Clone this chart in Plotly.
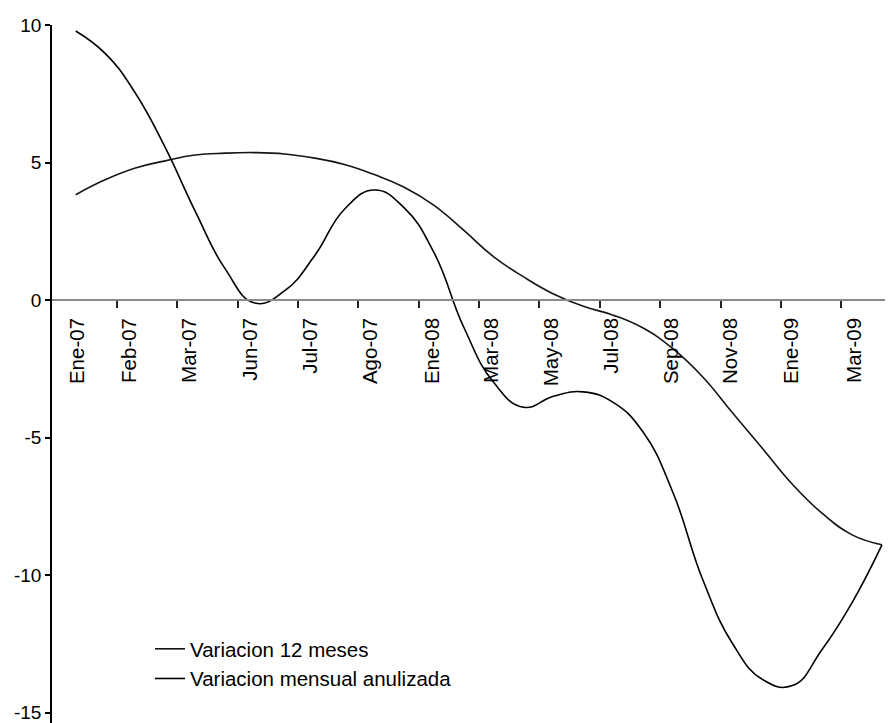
import plotly.graph_objects as go

# ---- data ----
obs = list(range(28))  # observation index along the x axis

var_12m = [3.83, 4.38, 4.80, 5.06, 5.27, 5.34, 5.36, 5.31, 5.16, 4.93,
           4.56, 4.10, 3.44, 2.53, 1.57, 0.84, 0.22, -0.23, -0.55, -1.02,
           -1.77, -2.80, -4.11, -5.40, -6.70, -7.76, -8.54, -8.90]

var_mens = [9.78, 8.95, 7.52, 5.54, 3.23, 1.14, -0.11, 0.34, 1.61, 3.30,
            4.00, 3.35, 1.72, -1.00, -3.00, -3.90, -3.50, -3.34, -3.72, -4.80,
            -7.00, -10.17, -12.50, -13.80, -14.02, -12.70, -11.00, -8.90]

etiquetas = ["Ene-07", "Feb-07", "Mar-07", "Jun-07", "Jul-07", "Ago-07", "Ene-08",
             "Mar-08", "May-08", "Jul-08", "Sep-08", "Nov-08", "Ene-09", "Mar-09"]

y_ticks = [-15, -10, -5, 0, 5, 10]
y_text = ["-15", "-10", "-5", "0", "5", "10"]

# ---- layout helpers (axis label / tick positions) ----
pos_etiquetas = [0.04, 1.79, 3.82, 5.85, 7.87, 9.88, 11.94, 13.93, 15.94,
                 17.95, 19.93, 21.93, 23.98, 26.06]
divisiones = [1.384 + 2.021 * i for i in range(13)]

FONT = "Arial, Liberation Sans, sans-serif"

Y_MIN, Y_MAX = -15.38, 10
PLOT_H = 715 - 17  # figure height minus top margin

fig = go.Figure()
fig.add_trace(go.Scatter(x=obs, y=var_12m, mode="lines", name="Variacion 12 meses",
                         line=dict(color="#151515", width=1.6, shape="spline", smoothing=1.3)))
fig.add_trace(go.Scatter(x=obs, y=var_mens, mode="lines", name="Variacion mensual anulizada",
                         line=dict(color="#000000", width=1.6, shape="spline", smoothing=1.3)))

# the page body adds an 8px offset, so the figure is 8px smaller than the window
fig.update_layout(
    width=885, height=715,
    margin=dict(l=44, r=0, t=17, b=0, autoexpand=False),
    paper_bgcolor="white", plot_bgcolor="white",
    font=dict(family=FONT, size=20, color="#000000"),
    showlegend=True,
    legend=dict(x=98 / 841, y=1 - 604 / PLOT_H, xanchor="left", yanchor="top",
                bgcolor="rgba(0,0,0,0)", borderwidth=0, font=dict(size=20.5),
                itemwidth=30, tracegroupgap=0),
    xaxis=dict(
        range=[-0.794, 27.37], anchor="free", position=(0 - Y_MIN) / (Y_MAX - Y_MIN),
        showline=True, linecolor="#8a8a8a", linewidth=1.5,
        showgrid=False, zeroline=False,
        tickmode="array", tickvals=pos_etiquetas, ticktext=etiquetas,
        ticks="outside", ticklen=7, tickcolor="rgba(0,0,0,0)",
        ticklabelstandoff=2,
        tickangle=-90, tickfont=dict(size=20.5, color="#000000"),
        minor=dict(tickmode="array", tickvals=divisiones, ticks="outside",
                   ticklen=7, tickwidth=1.5, tickcolor="#222222", showgrid=False),
    ),
    yaxis=dict(
        range=[Y_MIN, Y_MAX], showline=True, linecolor="#000000", linewidth=1.5,
        showgrid=False, zeroline=False,
        tickmode="array", tickvals=y_ticks, ticktext=y_text,
        ticks="outside", ticklen=5, tickwidth=1.5, tickcolor="#000000",
        ticklabeloverflow="allow",
        tickfont=dict(size=19, color="#000000"),
    ),
)

fig.write_html("out.html")
